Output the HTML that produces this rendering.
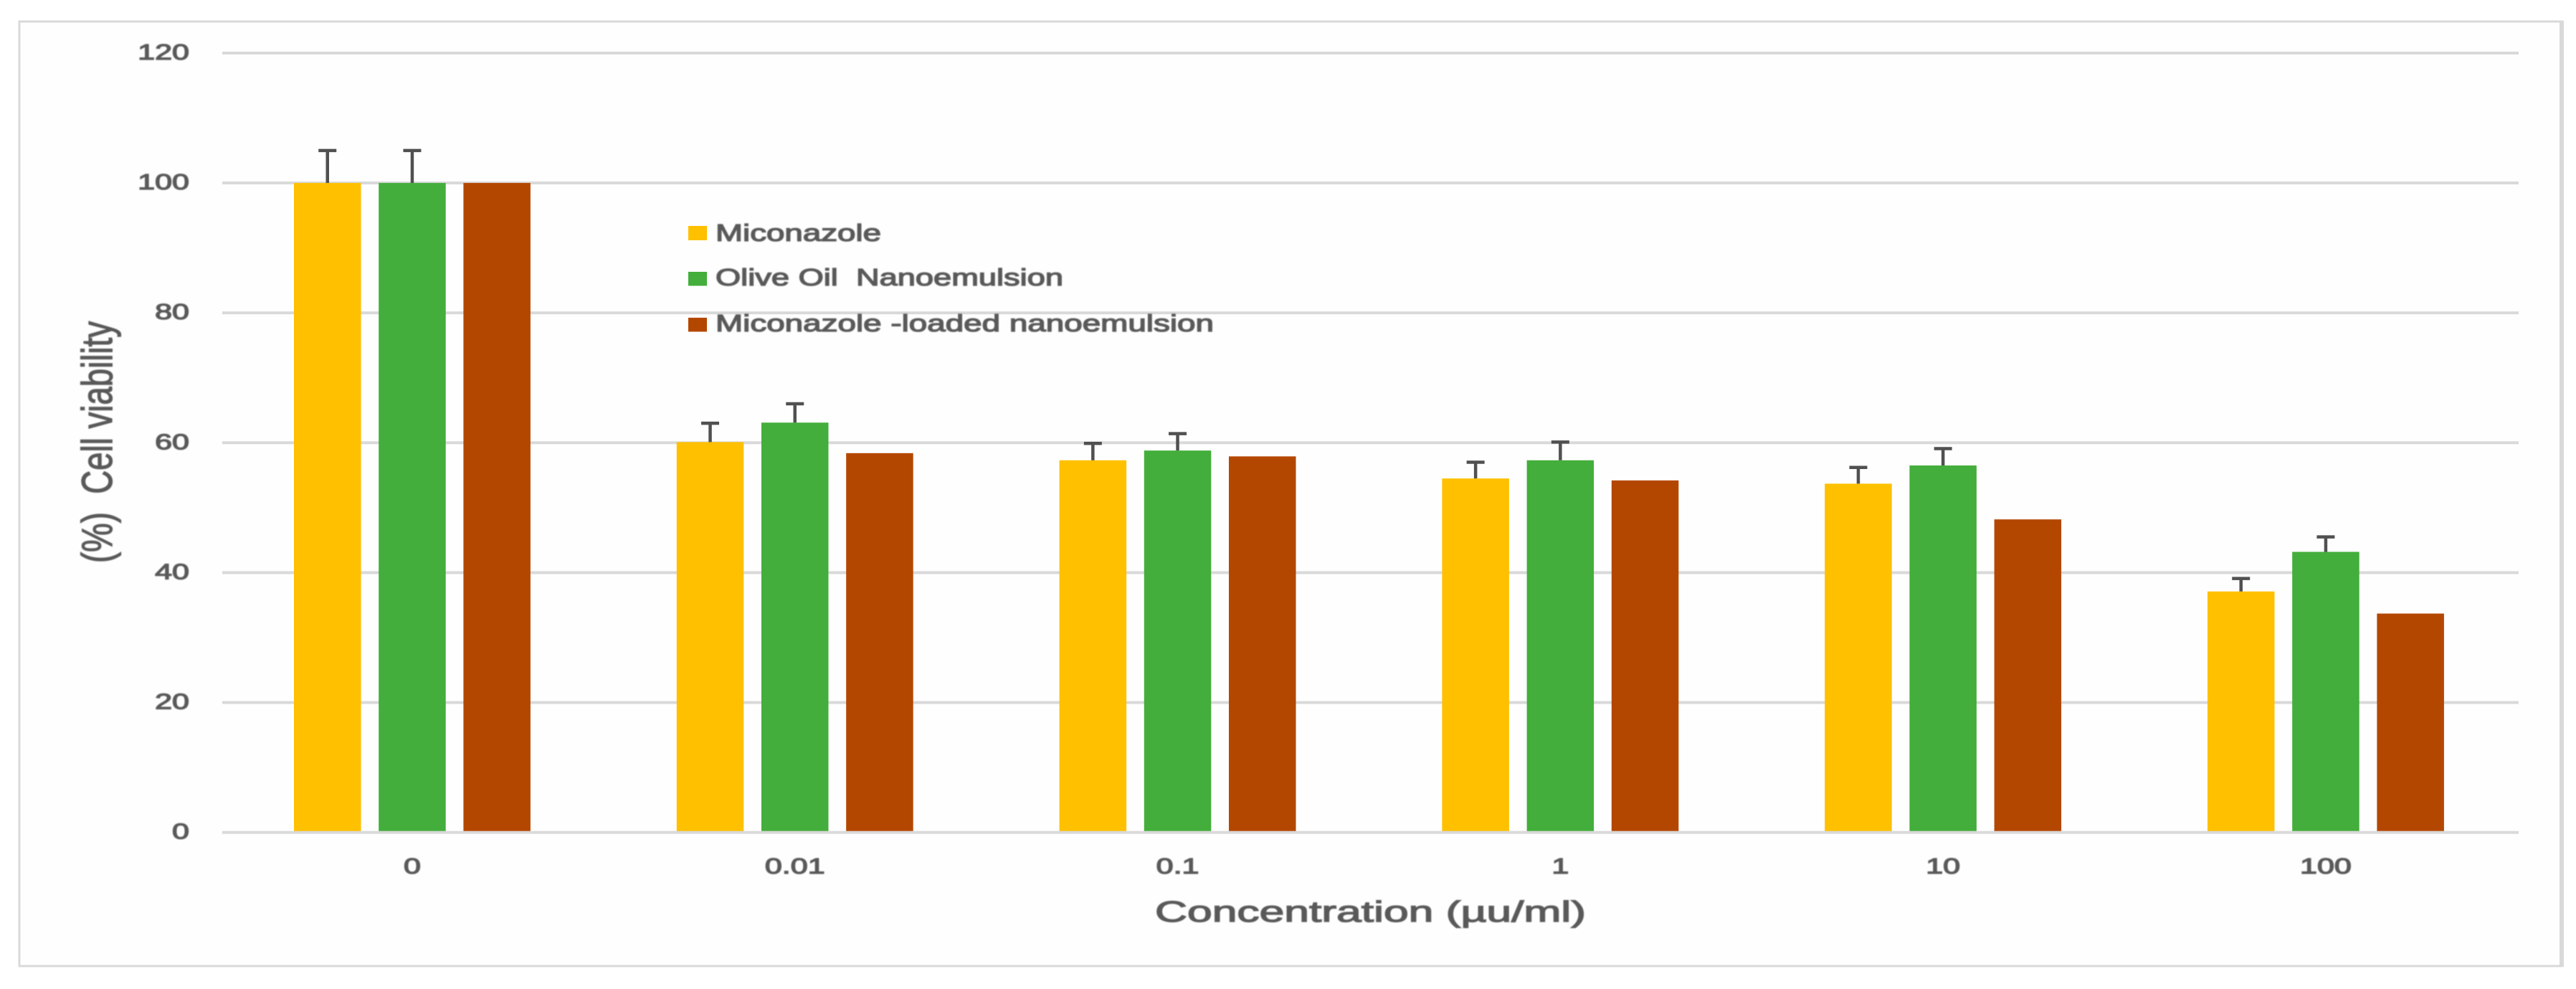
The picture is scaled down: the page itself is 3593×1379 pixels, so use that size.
<!DOCTYPE html>
<html lang="en">
<head>
<meta charset="utf-8">
<title>Cell viability chart</title>
<style>
  html,body{margin:0;padding:0;background:#fff;}
  svg{display:block;}
  text{font-family:"Liberation Sans",sans-serif;fill:#595959;stroke:#595959;stroke-width:1.3px;}
  #text-layer{filter:blur(.7px);}
</style>
</head>
<body>
<svg id="chart" xmlns="http://www.w3.org/2000/svg" width="3593" height="1379" viewBox="0 0 3593 1379">
  <rect x="0" y="0" width="3593" height="1379" fill="#ffffff"/>
  <rect x="27" y="30" width="3546" height="1317" fill="#fefefe" stroke="#d9d9d9" stroke-width="3"/>
  <rect x="3570" y="29" width="6" height="1319" fill="#d9d9d9"/>
  <g id="grid-layer"></g>
  <g id="bar-layer"></g>
  <g id="axis-layer"></g>
  <g id="error-layer"></g>
  <g id="legend-swatches">
    <rect x="960" y="315" width="26" height="20" fill="#ffc000"/>
    <rect x="960" y="379" width="26" height="19.500" fill="#43ae3b"/>
    <rect x="960" y="443" width="26" height="19.500" fill="#b44700"/>
  </g>
  <g id="text-layer">
    <text x="998" y="336" font-size="33" textLength="231" lengthAdjust="spacingAndGlyphs">Miconazole</text>
    <text x="998" y="398" font-size="33" textLength="485" lengthAdjust="spacingAndGlyphs" xml:space="preserve">Olive Oil&#160; Nanoemulsion</text>
    <text x="998" y="462" font-size="33" textLength="695" lengthAdjust="spacingAndGlyphs">Miconazole -loaded nanoemulsion</text>
    <text x="1611" y="1285" font-size="41" textLength="601" lengthAdjust="spacingAndGlyphs">Concentration (µu/ml)</text>
    <text transform="translate(156,785) rotate(-90)" x="0" y="0" font-size="60" textLength="337" lengthAdjust="spacingAndGlyphs" xml:space="preserve">(%)&#160; Cell viability</text>
  </g>
</svg>
<script>
// Chart data
const categories = ["0", "0.01", "0.1", "1", "10", "100"];
const miconazole = [100, 60.1, 57.3, 54.5, 53.7, 37.1];
const oliveOil = [100, 63.1, 58.8, 57.3, 56.5, 43.2];
const loaded = [100, 58.4, 57.9, 54.2, 48.2, 33.7];
const miconazoleErr = [5, 2.9, 2.6, 2.5, 2.5, 2];
const oliveOilErr = [5, 2.9, 2.6, 2.8, 2.6, 2.3];
const yTicks = [0, 20, 40, 60, 80, 100, 120];

const SVGNS = "http://www.w3.org/2000/svg";

// Axis functions
function yScale(v) { return 1160.7 - v * 9.056; }
function groupStart(i) { return 410 + i * 533.8; }
function barX(i, s) { return groupStart(i) + s * 118.2; }
const BAR_W = 93.5;
const PLOT_L = 310;
const PLOT_R = 3513;

function make(tag, attrs, parentId) {
  const n = document.createElementNS(SVGNS, tag);
  for (const k in attrs) n.setAttribute(k, attrs[k]);
  document.getElementById(parentId).appendChild(n);
  return n;
}

// Gridlines and y tick labels
yTicks.forEach(function (t) {
  if (t !== 0) {
    const g = make("rect", { x: PLOT_L, y: yScale(t) - 2, width: PLOT_R - PLOT_L, height: 4, fill: "#d9d9d9" }, "grid-layer");
    
    
  }
  const lab = make("text", { "text-anchor": "end", "font-size": 31, transform: "translate(264," + (yScale(t) + 9) + ") scale(1.39,1)" }, "text-layer");
  lab.textContent = String(t);
  
  
});

// Bars
const seriesList = [
  { name: "miconazole", values: miconazole, errs: miconazoleErr, color: "#ffc000" },
  { name: "olive-oil", values: oliveOil, errs: oliveOilErr, color: "#43ae3b" },
  { name: "loaded", values: loaded, errs: null, color: "#b44700" }
];

seriesList.forEach(function (s, si) {
  s.values.forEach(function (v, i) {
    const top = yScale(v);
    const b = make("rect", { x: barX(i, si), y: top, width: BAR_W, height: yScale(0) - top, fill: s.color }, "bar-layer");
    
    

    if (s.errs) {
      const cx = barX(i, si) + BAR_W / 2;
      const capY = yScale(v + s.errs[i]);
      const stem = make("line", { x1: cx, x2: cx, y1: top, y2: capY, stroke: "#505050", "stroke-width": 4.5 }, "error-layer");
      
      
      const cap = make("line", { x1: cx - 12.5, x2: cx + 12.5, y1: capY, y2: capY, stroke: "#505050", "stroke-width": 4.5 }, "error-layer");
      
      
    }
  });
});

// Zero axis line over the bar bases
const zeroLine = make("rect", { x: PLOT_L, y: yScale(0) - 2, width: PLOT_R - PLOT_L, height: 4, fill: "#d9d9d9" }, "axis-layer");



// X tick labels
categories.forEach(function (c, i) {
  const cx = barX(i, 1) + BAR_W / 2;
  const lab = make("text", { "text-anchor": "middle", "font-size": 31, transform: "translate(" + cx + ",1218) scale(1.39,1)" }, "text-layer");
  lab.textContent = c;
  
  
});
</script>
</body>
</html>
